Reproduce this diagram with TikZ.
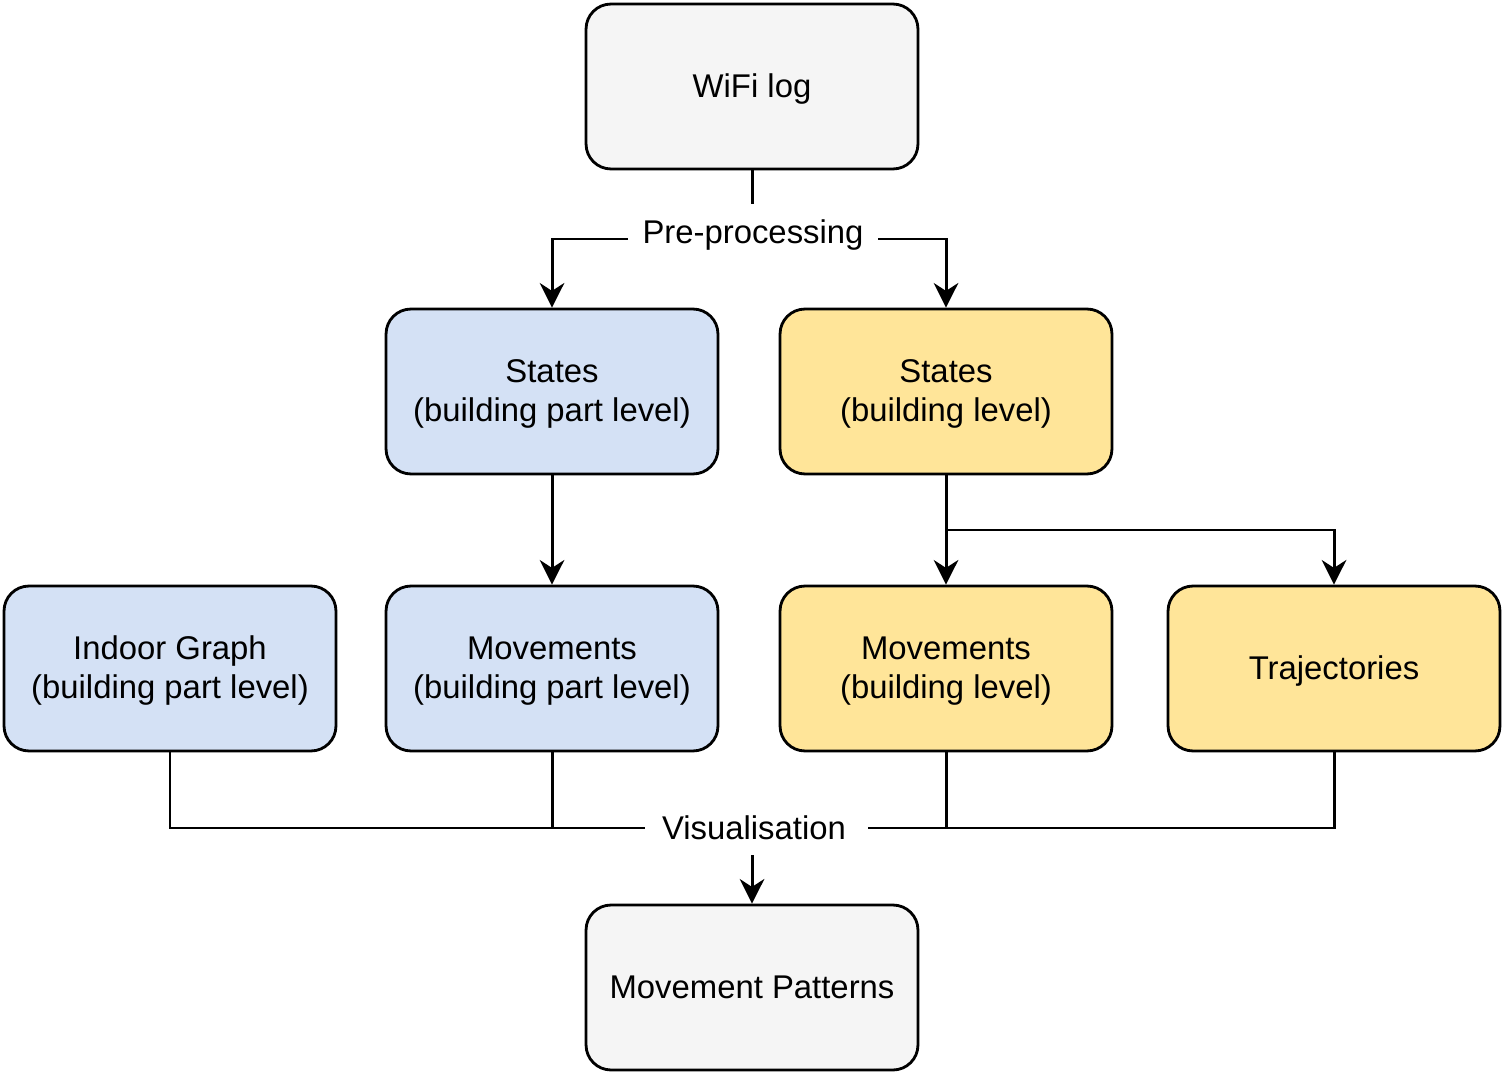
\documentclass[tikz,border=0pt]{standalone}
\usepackage{fontspec}
\setmainfont{Liberation Sans}
\usetikzlibrary{arrows.meta}
\definecolor{gfill}{HTML}{F5F5F5}
\definecolor{bfill}{HTML}{D4E1F5}
\definecolor{yfill}{HTML}{FFE599}
\newcommand{\boxtext}[1]{\raisebox{-1.6pt}[\height][\depth]{\begin{tabular}{@{}c@{}}#1\end{tabular}}}
\begin{document}
\begin{tikzpicture}[x=0.02cm,y=-0.02cm,
  box/.style={draw=black, line width=1.6pt, rounded corners=0.5cm, minimum width=6.64cm, minimum height=3.3cm, inner sep=0pt, font=\fontsize{18.7}{22}\selectfont},
  gbox/.style={box, fill=gfill},
  bbox/.style={box, fill=bfill},
  ybox/.style={box, fill=yfill},
  lbl/.style={inner sep=0pt, font=\fontsize{18.7}{22.4}\selectfont},
  conn/.style={line width=1.7pt, draw=black},
  arr/.style={conn, -{Stealth[length=14pt, width=14pt, inset=4.5pt]}}
]
\useasboundingbox (0,0) rectangle (1504,1074);

\node[gbox] (wifi) at (752,86.5) {\boxtext{WiFi log}};
\node[bbox] (sbp) at (552,391.5) {\boxtext{States\\(building part level)}};
\node[ybox] (sb) at (946,391.5) {\boxtext{States\\(building level)}};
\node[bbox] (ig) at (170,668.5) {\boxtext{Indoor Graph\\(building part level)}};
\node[bbox] (mbp) at (552,668.5) {\boxtext{Movements\\(building part level)}};
\node[ybox] (mb) at (946,668.5) {\boxtext{Movements\\(building level)}};
\node[ybox] (tr) at (1334,668.5) {\boxtext{Trajectories}};
\node[gbox] (mp) at (752,987.5) {\boxtext{Movement Patterns}};

\node[lbl] (pre) at (753,235) {Pre-processing};
\node[lbl] (vis) at (754,828) {Visualisation};

\coordinate (pt) at (752,204);
\coordinate (pl) at (628,239);
\coordinate (pr) at (878,239);
\coordinate (vl) at (645,828);
\coordinate (vr) at (868,828);
\coordinate (va) at (752,855);
\coordinate (br) at (946,530);

\draw[conn] (wifi.south) -- (pt);
\draw[arr] (pl) -| (sbp.north);
\draw[arr] (pr) -| (sb.north);
\draw[arr] (sbp.south) -- (mbp.north);
\draw[arr] (sb.south) -- (mb.north);
\draw[arr] (br) -| (tr.north);
\draw[conn] (ig.south) |- (vl);
\draw[conn] (mbp.south) -- (mbp.south |- vl);
\draw[conn] (tr.south) |- (vr);
\draw[conn] (mb.south) -- (mb.south |- vr);
\draw[arr] (va) -- (mp.north);
\end{tikzpicture}
\end{document}
